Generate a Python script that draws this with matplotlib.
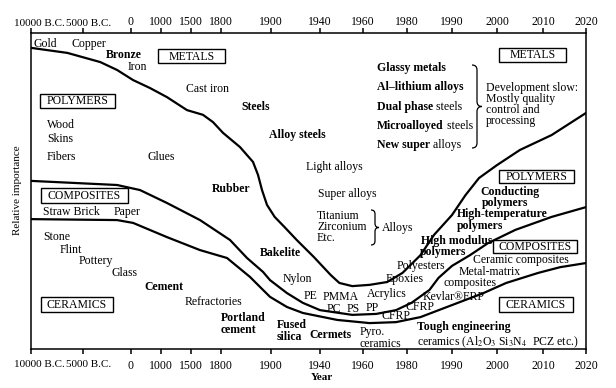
import numpy as np
import matplotlib
matplotlib.use("Agg")
from matplotlib import pyplot as plt
from matplotlib.transforms import Affine2D, ScaledTranslation
from matplotlib.patches import Rectangle, PathPatch
from matplotlib.path import Path
from matplotlib.ticker import NullLocator

plt.rcParams['font.family'] = ['Liberation Serif', 'DejaVu Serif']
plt.rcParams['mathtext.fontset'] = 'stix'

# Asse dei tempi (non lineare, come nel grafico originale)
tick_years = [-10000, -5000, 0, 1000, 1500, 1800, 1900, 1940, 1960, 1980, 1990, 2000, 2010, 2020]
tick_labels = ['10000 B.C.', '5000 B.C.', '0', '1000', '1500', '1800', '1900',
               '1940', '1960', '1980', '1990', '2000', '2010', '2020']
tick_pos = [0, 52, 100, 130, 160, 190, 240, 289, 332, 376, 421, 466, 512, 555]

# Curve di separazione (importanza relativa, 0-100)
metals_yr = [-10000, -6500, -3200, -1450, 70, 630, 1100, 1433, 1620, 1720,
             1804, 1838, 1864, 1874, 1882, 1892, 1903, 1911, 1921, 1935,
             1945, 1949, 1955, 1963, 1971, 1978, 1983, 1986, 1990, 1993,
             1996, 2000, 2005, 2012, 2020]
metals_val = [95.3, 93.7, 90.8, 88.3, 85.1, 82.6, 79.7, 75.6, 74.1, 71.8,
              68.4, 63.9, 59.2, 55.1, 50.3, 45.6, 41.8, 38.6, 34.5, 29.1,
              23.4, 20.9, 19.9, 20.3, 21.2, 24.1, 29.7, 36.1, 42.4, 48.7,
              54.1, 58.2, 63.0, 67.7, 74.7]

poly_yr = [-10000, -1450, 300, 1100, 1590, 1818, 1852, 1884, 1898, 1913, 1926, 1940,
           1955, 1966, 1975, 1981, 1985, 1987, 1990, 1994, 1998, 2004, 2012, 2020]
poly_val = [53.2, 51.9, 50.3, 46.2, 40.8, 34.5, 28.8, 24.4, 21.8, 17.7, 14.6, 12.3,
            10.8, 11.1, 12.3, 14.6, 18.7, 22.5, 26.3, 29.7, 33.5, 37.7, 41.8, 44.9]

comp_yr = [-10000, -1450, 70, 1100, 1590, 1812, 1858, 1884, 1898, 1913, 1926,
           1948, 1963, 1975, 1983, 1990, 1997, 2002, 2009, 2014, 2020]
comp_val = [41.1, 40.8, 39.9, 35.4, 31.3, 28.8, 22.8, 18.7, 16.5, 13.3, 11.4,
            9.2, 8.2, 8.5, 10.1, 13.9, 17.7, 20.9, 24.1, 25.9, 27.2]


def fwd(x):
    return np.interp(x, tick_years, tick_pos)

def inv(p):
    return np.interp(p, tick_pos, tick_years)


W, H = 616, 388
fig = plt.figure(figsize=(W / 100, H / 100), dpi=100)
ax = fig.add_axes([31 / W, 1 - 349 / H, 555 / W, 316 / H])

# coordinate in pixel dell'immagine (origine in alto a sinistra)
px = Affine2D().scale(1 / W, -1 / H).translate(0, 1) + fig.transFigure

ax.set_xscale('function', functions=(fwd, inv))
ax.set_xlim(-10000, 2020)
ax.set_ylim(0, 100)

for yr, val in [(metals_yr, metals_val), (poly_yr, poly_val), (comp_yr, comp_val)]:
    ax.plot(yr, val, color='black', lw=1.6, solid_capstyle='round')

ax.set_xticks(tick_years)
ax.set_xticklabels(tick_labels)
ax.xaxis.set_minor_locator(NullLocator())
ax.set_yticks([])
ax.tick_params(axis='x', which='major', direction='out', length=3.5, width=1.1,
               top=True, labeltop=True, labelsize=8.5, pad=2)
for s in ax.spines.values():
    s.set_linewidth(1.1)

# etichette B.C. piu' piccole e spostate a destra; tutte un po' piu' in basso
for i, t in enumerate(ax.xaxis.get_major_ticks()):
    dx = {0: 8, 1: 6}.get(i, 0)
    off = ScaledTranslation(dx / 100, -3 / 100, fig.dpi_scale_trans)
    for lb in (t.label1, t.label2):
        lb.set_transform(lb.get_transform() + off)
        if i < 2:
            lb.set_fontsize(8)

fig.text(322, 378, 'Year', transform=px, ha='center', va='center',
         fontsize=8, fontweight='bold')
fig.text(18, 190, 'Relative importance', transform=px, ha='center', va='center',
         fontsize=8, rotation=90)


def lab(x, y, s, bold=False, size=8.5):
    return fig.text(x, y, s, transform=px, ha='left', va='center', fontsize=size,
                    fontweight='bold' if bold else 'normal')


def box(x0, y0, x1, y1, s):
    fig.patches.append(Rectangle((x0, y1), x1 - x0, y0 - y1, transform=px,
                                 fill=False, lw=1.0, ec='black'))
    fig.text((x0 + x1) / 2, (y0 + y1) / 2 + 0.5, s, transform=px, ha='center',
             va='center', fontsize=8.5)


def brace(x0, yt, yb, w):
    ym = (yt + yb) / 2
    xm = x0 + w / 2
    r = min(w / 2, (yb - yt) / 4)
    verts = [(x0, yt), (xm, yt), (xm, yt + r), (xm, ym - r), (xm, ym), (x0 + w, ym),
             (xm, ym), (xm, ym + r), (xm, yb - r), (xm, yb), (x0, yb)]
    codes = [Path.MOVETO, Path.CURVE3, Path.CURVE3, Path.LINETO, Path.CURVE3, Path.CURVE3,
             Path.CURVE3, Path.CURVE3, Path.LINETO, Path.CURVE3, Path.CURVE3]
    fig.patches.append(PathPatch(Path(verts, codes), transform=px, fill=False,
                                 lw=0.9, ec='black'))


# riquadri delle famiglie di materiali
box(158, 49, 225, 63, 'METALS')
box(40, 94, 115, 108, 'POLYMERS')
box(41, 188, 128, 203, 'COMPOSITES')
box(41, 297, 113, 312, 'CERAMICS')
box(499, 48, 566, 62, 'METALS')
box(499, 170, 574, 183, 'POLYMERS')
box(493, 240, 577, 253, 'COMPOSITES')
box(499, 297, 573, 312, 'CERAMICS')

# metalli
lab(34, 44, 'Gold')
lab(72, 44, 'Copper')
lab(106, 55, 'Bronze', bold=True)
lab(128, 67, 'Iron')
lab(186, 89, 'Cast iron')
lab(241, 107, 'Steels', bold=True)
lab(269, 135, 'Alloy steels', bold=True)
lab(306, 167, 'Light alloys')
lab(318, 194, 'Super alloys')
lab(317, 216, 'Titanium')
lab(317, 227, 'Zirconium')
lab(317, 238, 'Etc.')
brace(371, 210, 245, 8)
lab(382, 228, 'Alloys')

lab(377, 68, 'Glassy metals', bold=True)
lab(377, 87, 'Al–lithium alloys', bold=True)
for yy, b, n in [(107, 'Dual phase', ' steels'), (126, 'Microalloyed', ' steels'),
                 (145, 'New super', ' alloys')]:
    t = lab(377, yy, b, bold=True)
    ax.annotate(n, xy=(1, 0.5), xycoords=t, ha='left', va='center', fontsize=8.5)
brace(472, 65, 148, 10)
lab(486, 88, 'Development slow:')
lab(486, 99, 'Mostly quality')
lab(486, 110, 'control and')
lab(486, 121, 'processing')

# polimeri
lab(47, 125, 'Wood')
lab(47, 139, 'Skins')
lab(47, 157, 'Fibers')
lab(148, 157, 'Glues')
lab(212, 189, 'Rubber', bold=True)
lab(260, 253, 'Bakelite', bold=True)
lab(283, 279, 'Nylon')
lab(304, 296, 'PE')
lab(323, 297, 'PMMA')
lab(327, 309, 'PC')
lab(347, 309, 'PS')
lab(366, 308, 'PP')
lab(367, 294, 'Acrylics')
lab(397, 266, 'Polyesters')
lab(386, 279, 'Epoxies')
lab(421, 241, 'High modulus', bold=True)
lab(420, 252, 'polymers', bold=True)
lab(457, 214, 'High-temperature', bold=True)
lab(457, 226, 'polymers', bold=True)
lab(480, 192, 'Conducting', bold=True)
lab(482, 203, 'polymers', bold=True)

# compositi
lab(43, 212, 'Straw Brick')
lab(114, 212, 'Paper')
lab(382, 316, 'CFRP')
lab(405, 307, 'CFRP')
lab(423, 297, 'Kevlar®FRP')
lab(459, 272, 'Metal-matrix')
lab(443, 283, 'composites')
lab(473, 260, 'Ceramic composites')

# ceramici
lab(43, 237, 'Stone')
lab(60, 250, 'Flint')
lab(79, 261, 'Pottery')
lab(111, 273, 'Glass')
lab(144, 287, 'Cement', bold=True)
lab(185, 302, 'Refractories')
lab(221, 318, 'Portland', bold=True)
lab(221, 330, 'cement', bold=True)
lab(277, 325, 'Fused', bold=True)
lab(277, 337, 'silica', bold=True)
lab(309, 335, 'Cermets', bold=True)
lab(360, 332, 'Pyro.')
lab(359, 344, 'ceramics')
lab(417, 327, 'Tough engineering', bold=True)
lab(417, 342, r'ceramics (Al$_2$O$_3$ Si$_3$N$_4$  PCZ etc.)')

fig.savefig('out.png', dpi=100)
